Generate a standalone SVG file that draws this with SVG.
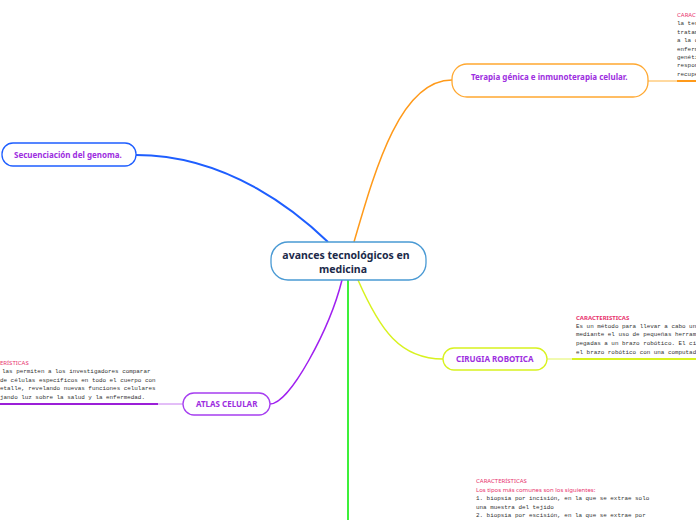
<svg xmlns="http://www.w3.org/2000/svg" width="696" height="520" viewBox="0 0 696 520">
<style>
.node{fill:#fff;stroke-width:1.3}
.lbl{font-family:"Noto Sans","Open Sans",sans-serif;font-weight:bold;font-size:8px;fill:#9d2ee0}
.main{font-family:"Noto Sans","Open Sans",sans-serif;font-weight:bold;font-size:10.5px;fill:#1c2a4a;text-anchor:middle}
.mono{font-family:"Liberation Mono","DejaVu Sans Mono",monospace;font-size:5.9px;fill:#333}
.pink{font-family:"Noto Sans","Open Sans",sans-serif;font-size:6px;fill:#e8336e}
.con{fill:none}
</style>
<g id="connectors">
<path class="con" d="M328,242 C300,215 230,155 136,155" stroke="#1e5eff" stroke-width="2"/>
<path class="con" d="M354,242 C375,170 400,80 452,80" stroke="#ff9a1a" stroke-width="1.5"/>
<path class="con" d="M348,280 L348,520" stroke="#3ef03a" stroke-width="2"/>
<path class="con" d="M358,280 C380,330 400,359 443,359" stroke="#d8f21f" stroke-width="1.5"/>
<path class="con" d="M342,280 C330,328 290,404 270,404" stroke="#a020f0" stroke-width="1.5"/>
<path class="con" d="M648,81 L677,81" stroke="#ffb340" stroke-width="1"/>
<path class="con" d="M677,81 L696,81" stroke="#ff9a1a" stroke-width="2"/>
<path class="con" d="M547,359 L572,359" stroke="#e2f560" stroke-width="1"/>
<path class="con" d="M572,359 L696,359" stroke="#d8f21f" stroke-width="2"/>
<path class="con" d="M183,404 L158,404" stroke="#c77cf0" stroke-width="1"/>
<path class="con" d="M158,404 L0,404" stroke="#9b1fd8" stroke-width="2"/>
</g>
<g id="center">
<rect class="node" x="271" y="242" width="155" height="38" rx="17" stroke="#4a9ad4"/>
<text class="main" x="346" y="259">avances tecnológicos en</text>
<text class="main" x="343" y="273">medicina</text>
</g>
<g id="secuenciacion">
<rect class="node" x="2" y="143" width="134" height="23" rx="11" stroke="#1e5eff"/>
<text class="lbl" x="14" y="158">Secuenciación del genoma.</text>
</g>
<g id="terapia">
<rect class="node" x="452" y="64" width="196" height="33" rx="15" stroke="#ffa830"/>
<text class="lbl" x="471" y="80">Terapia génica e inmunoterapia celular.</text>
</g>
<g id="terapia-notes">
<text class="pink" x="677" y="17">CARAC</text>
<text class="mono" x="677" y="25">la ter</text>
<text class="mono" x="677" y="34">tratam</text>
<text class="mono" x="677" y="42">a la c</text>
<text class="mono" x="677" y="51">enferm</text>
<text class="mono" x="677" y="59">genéti</text>
<text class="mono" x="677" y="67">respon</text>
<text class="mono" x="677" y="76">recupe</text>
</g>
<g id="cirugia">
<rect class="node" x="443" y="348" width="104" height="22" rx="11" stroke="#d8f21f"/>
<text class="lbl" x="456" y="362">CIRUGIA ROBOTICA</text>
</g>
<g id="cirugia-notes">
<text class="pink" x="576" y="320" font-weight="bold">CARACTERISTICAS</text>
<text class="mono" x="576" y="328">Es un método para llevar a cabo un</text>
<text class="mono" x="576" y="336">mediante el uso de pequeñas herram</text>
<text class="mono" x="576" y="345">pegadas a un brazo robótico. El ci</text>
<text class="mono" x="576" y="354">el brazo robótico con una computad</text>
</g>
<g id="atlas">
<rect class="node" x="183" y="393" width="87" height="22" rx="11" stroke="#a63ef0"/>
<text class="lbl" x="196" y="407">ATLAS CELULAR</text>
</g>
<g id="atlas-notes">
<text class="pink" x="0" y="365">ERÍSTICAS</text>
<text class="mono" x="2" y="373">las permiten a los investigadores comparar</text>
<text class="mono" x="0" y="382">de células específicos en todo el cuerpo con</text>
<text class="mono" x="0" y="390">etalle, revelando nuevas funciones celulares</text>
<text class="mono" x="0" y="399">jando luz sobre la salud y la enfermedad.</text>
</g>
<g id="biopsia-notes">
<text class="pink" x="476" y="483">CARACTERÍSTICAS</text>
<text class="pink" x="476" y="492">Los tipos más comunes son los siguientes:</text>
<text class="mono" x="476" y="500">1. biopsia por incisión, en la que se extrae solo</text>
<text class="mono" x="476" y="509">una muestra del tejido</text>
<text class="mono" x="476" y="517">2. biopsia por escisión, en la que se extrae por</text>
</g>
</svg>
